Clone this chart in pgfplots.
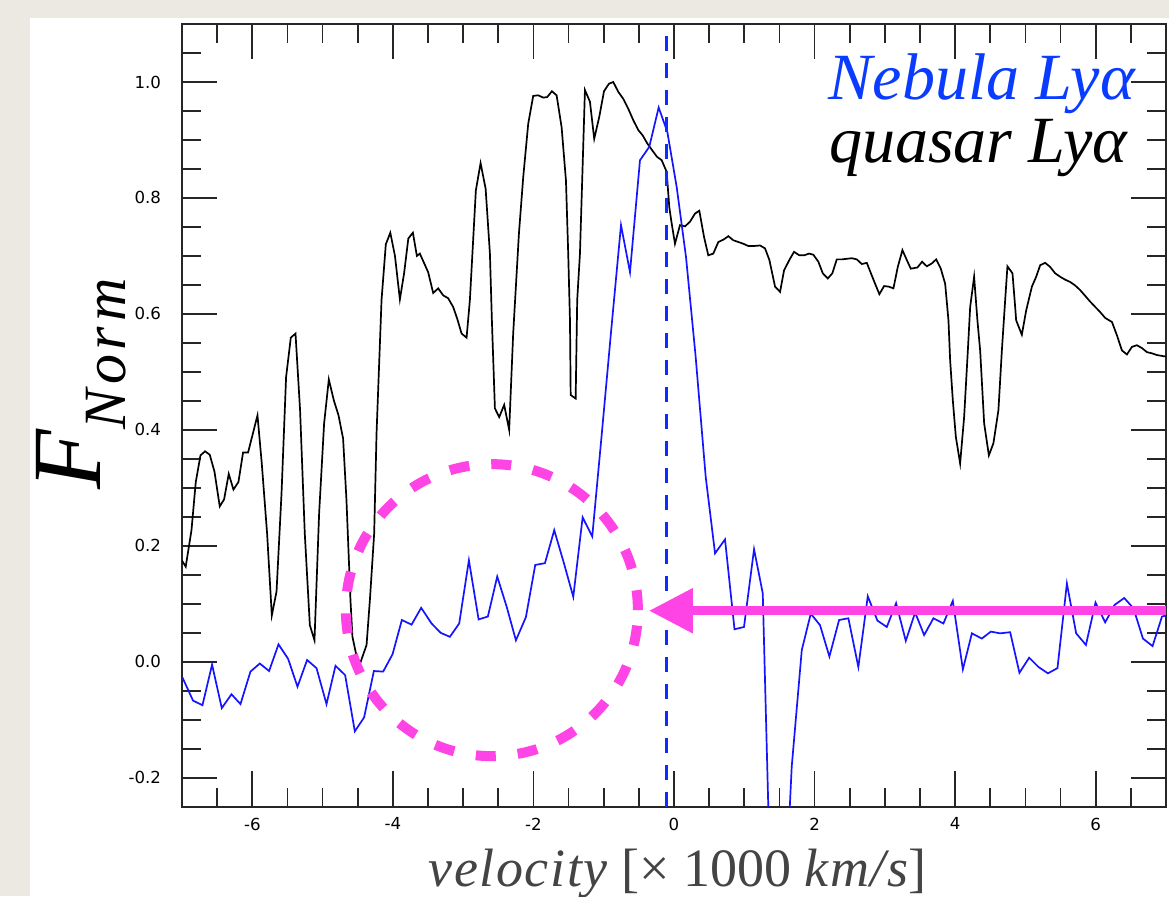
\documentclass[border=0pt]{standalone}
\usepackage{pgfplots}
\pgfplotsset{compat=1.18}
\usepackage{fontspec}
\setmainfont{Liberation Serif}
\newfontfamily\dejavu{DejaVu Sans}
\newfontfamily\spacedit[LetterSpace=3]{Liberation Serif}
\newfontfamily\widespacedit[LetterSpace=8]{Liberation Serif}
\usetikzlibrary{arrows.meta}
\definecolor{magentaA}{RGB}{255,68,230}
\definecolor{lineblue}{RGB}{20,20,255}
\definecolor{legblue}{RGB}{10,60,255}
\definecolor{paper}{RGB}{236,232,226}
\definecolor{labgray}{RGB}{68,68,68}
\begin{document}
\begin{tikzpicture}[x=1pt,y=1pt]
\fill[paper] (0,0) rectangle (584.5,448);
\fill[white] (15,0) rectangle (584.5,439);
\begin{axis}[
  at={(91pt,44.65pt)}, anchor=south west,
  scale only axis, width=492pt, height=391.35pt,
  xmin=-7, xmax=7, ymin=-0.25, ymax=1.1,
  xtick={-6,-4,-2,0,2,4,6},
  ytick={-0.2,0,0.2,0.4,0.6,0.8,1.0},
  minor xtick={-6.5,-5.5,-5,-4.5,-3.5,-3,-2.5,-1.5,-1,-0.5,0.5,1,1.5,2.5,3,3.5,4.5,5,5.5,6.5},
  minor ytick={-0.15,-0.1,-0.05,0.05,0.1,0.15,0.25,0.3,0.35,0.45,0.5,0.55,0.65,0.7,0.75,0.85,0.9,0.95,1.05},
  tick align=inside, tick pos=both,
  major tick length=17.7pt, minor tick length=9.3pt,
  every tick/.style={black!85, line width=0.8pt},
  axis line style={black!85, line width=0.9pt},
  /pgf/number format/assume math mode=true,
  yticklabel style={font=\dejavu\fontsize{8.3}{8.3}\selectfont, xshift=-7pt,
    /pgf/number format/.cd, fixed, fixed zerofill, precision=1},
  xticklabel style={font=\dejavu\fontsize{8.3}{8.3}\selectfont, yshift=-2pt},
]
% quasar Ly-alpha (black)
\addplot[black, line width=0.85pt] coordinates {
(-7.003,0.175)(-6.947,0.164)(-6.865,0.227)(-6.804,0.31)(-6.737,0.356)(-6.672,0.363)(-6.605,0.357)(-6.538,0.328)(-6.463,0.268)(-6.401,0.28)(-6.335,0.324)(-6.268,0.297)(-6.197,0.31)(-6.131,0.361)(-6.060,0.361)(-5.997,0.391)(-5.926,0.425)(-5.865,0.342)(-5.789,0.221)(-5.722,0.08)(-5.655,0.121)(-5.584,0.29)(-5.519,0.491)(-5.452,0.559)(-5.385,0.566)(-5.320,0.434)(-5.253,0.221)(-5.181,0.063)(-5.115,0.037)(-5.049,0.256)(-4.978,0.411)(-4.911,0.487)(-4.840,0.451)(-4.773,0.425)(-4.708,0.385)(-4.660,0.279)(-4.603,0.106)(-4.575,0.043)(-4.517,0.01)(-4.466,-0.003)(-4.374,0.029)(-4.327,0.106)(-4.266,0.221)(-4.232,0.394)(-4.161,0.624)(-4.10,0.72)(-4.036,0.74)(-3.97,0.70)(-3.90,0.625)(-3.84,0.67)(-3.78,0.73)(-3.715,0.74)(-3.658,0.70)(-3.616,0.704)(-3.498,0.672)(-3.426,0.636)(-3.355,0.644)(-3.284,0.632)(-3.213,0.627)(-3.142,0.612)(-3.085,0.592)(-3.022,0.566)(-2.951,0.559)(-2.904,0.624)(-2.819,0.813)(-2.752,0.86)(-2.680,0.816)(-2.619,0.704)(-2.591,0.589)(-2.548,0.437)(-2.487,0.422)(-2.416,0.443)(-2.345,0.40)(-2.288,0.566)(-2.206,0.739)(-2.145,0.836)(-2.074,0.928)(-2.003,0.976)(-1.932,0.977)(-1.860,0.973)(-1.804,0.974)(-1.737,0.984)(-1.670,0.977)(-1.599,0.922)(-1.537,0.83)(-1.505,0.704)(-1.480,0.589)(-1.470,0.46)(-1.399,0.454)(-1.377,0.624)(-1.338,0.704)(-1.267,0.986)(-1.196,0.966)(-1.135,0.902)(-1.063,0.94)(-0.996,0.984)(-0.925,0.997)(-0.864,1.0)(-0.793,0.983)(-0.722,0.971)(-0.651,0.954)(-0.579,0.934)(-0.508,0.917)(-0.446,0.908)(-0.380,0.894)(-0.309,0.882)(-0.242,0.871)(-0.175,0.865)(-0.104,0.845)(-0.067,0.784)(-0.033,0.756)(0.014,0.721)(0.085,0.753)(0.157,0.751)(0.228,0.759)(0.299,0.773)(0.360,0.778)(0.427,0.733)(0.488,0.701)(0.559,0.704)(0.631,0.724)(0.702,0.728)(0.773,0.734)(0.844,0.727)(0.915,0.724)(0.986,0.721)(1.058,0.717)(1.129,0.717)(1.224,0.718)(1.295,0.713)(1.357,0.693)(1.438,0.647)(1.509,0.638)(1.566,0.675)(1.641,0.693)(1.708,0.707)(1.784,0.701)(1.851,0.701)(1.922,0.704)(1.983,0.702)(2.054,0.69)(2.117,0.67)(2.188,0.661)(2.253,0.67)(2.316,0.694)(2.387,0.694)(2.458,0.695)(2.530,0.696)(2.601,0.694)(2.672,0.686)(2.743,0.688)(2.861,0.652)(2.922,0.634)(2.989,0.648)(3.056,0.647)(3.122,0.644)(3.184,0.681)(3.250,0.71)(3.312,0.693)(3.369,0.678)(3.463,0.68)(3.530,0.69)(3.597,0.682)(3.668,0.687)(3.730,0.694)(3.796,0.678)(3.858,0.652)(3.905,0.589)(3.929,0.52)(3.967,0.451)(4.010,0.388)(4.071,0.342)(4.128,0.422)(4.181,0.537)(4.214,0.612)(4.270,0.664)(4.317,0.589)(4.356,0.537)(4.413,0.411)(4.480,0.356)(4.545,0.377)(4.616,0.434)(4.665,0.537)(4.712,0.624)(4.744,0.682)(4.816,0.67)(4.854,0.612)(4.868,0.589)(4.949,0.564)(5.011,0.606)(5.092,0.647)(5.153,0.664)(5.210,0.684)(5.281,0.688)(5.352,0.681)(5.423,0.67)(5.495,0.664)(5.566,0.659)(5.637,0.655)(5.708,0.649)(5.779,0.641)(5.851,0.631)(5.922,0.621)(5.993,0.612)(6.064,0.603)(6.135,0.593)(6.231,0.586)(6.302,0.563)(6.373,0.537)(6.444,0.53)(6.515,0.543)(6.586,0.546)(6.658,0.541)(6.729,0.534)(6.800,0.532)(6.871,0.529)(6.965,0.527)(7.032,0.526)
};
% nebula Ly-alpha (blue)
\addplot[lineblue, line width=0.85pt] coordinates {
(-6.994,-0.027)(-6.843,-0.067)(-6.709,-0.075)(-6.572,-0.005)(-6.434,-0.08)(-6.296,-0.056)(-6.168,-0.073)(-6.026,-0.017)(-5.893,-0.003)(-5.761,-0.016)(-5.627,0.03)(-5.490,0.005)(-5.357,-0.043)(-5.220,0.003)(-5.086,-0.011)(-4.944,-0.073)(-4.816,-0.007)(-4.679,-0.023)(-4.541,-0.12)(-4.409,-0.096)(-4.270,-0.016)(-4.138,-0.017)(-4.004,0.013)(-3.872,0.072)(-3.734,0.064)(-3.597,0.093)(-3.449,0.066)(-3.321,0.05)(-3.189,0.043)(-3.056,0.066)(-2.918,0.175)(-2.780,0.073)(-2.648,0.078)(-2.515,0.147)(-2.381,0.095)(-2.249,0.037)(-2.107,0.077)(-1.974,0.167)(-1.836,0.17)(-1.704,0.227)(-1.566,0.17)(-1.433,0.112)(-1.300,0.249)(-1.163,0.216)(-1.029,0.391)(-0.894,0.571)(-0.754,0.753)(-0.626,0.672)(-0.484,0.865)(-0.352,0.888)(-0.218,0.956)(-0.095,0.914)(0.038,0.819)(0.171,0.698)(0.306,0.529)(0.451,0.319)(0.584,0.187)(0.726,0.211)(0.861,0.056)(0.996,0.06)(1.139,0.194)(1.263,0.118)(1.395,-0.50)(1.537,-0.53)(1.675,-0.181)(1.818,0.02)(1.946,0.083)(2.078,0.063)(2.211,0.009)(2.349,0.072)(2.481,0.075)(2.623,-0.009)(2.757,0.113)(2.894,0.071)(3.028,0.06)(3.160,0.101)(3.298,0.036)(3.431,0.085)(3.559,0.046)(3.691,0.075)(3.833,0.066)(3.967,0.105)(4.110,-0.013)(4.238,0.049)(4.380,0.04)(4.508,0.052)(4.641,0.049)(4.783,0.051)(4.915,-0.019)(5.053,0.007)(5.186,-0.009)(5.320,-0.02)(5.456,-0.011)(5.590,0.135)(5.722,0.049)(5.861,0.029)(5.997,0.102)(6.135,0.068)(6.268,0.098)(6.406,0.11)(6.538,0.092)(6.672,0.04)(6.809,0.027)(6.943,0.078)(7.01,0.08)
};
% systemic velocity marker
\addplot[legblue!60!lineblue, line width=1.5pt, dash pattern=on 7.5pt off 6pt] coordinates {(-0.1,-0.25)(-0.1,1.1)};
% annotations
\draw[magentaA, line width=5pt, dash pattern=on 10pt off 11pt] (axis cs:-2.591,0.089) circle [radius=73pt];
\draw[magentaA, line width=4.5pt, -{Triangle[length=22pt,width=21.5pt]}] (axis cs:7.1,0.088) -- (axis cs:-0.356,0.088);
\end{axis}
\node[anchor=base east, inner sep=0, font=\itshape\fontsize{33}{33}\selectfont, text=legblue] at (567.5,398) {Nebula Lyα};
\node[anchor=base east, inner sep=0, font=\itshape\fontsize{33}{33}\selectfont, text=black] at (564,366.5) {quasar Lyα};
\node[anchor=base west, inner sep=0, rotate=90] at (50,203) {\fontsize{49}{49}\selectfont\itshape F\raisebox{-12.5pt}{\widespacedit\itshape\fontsize{30}{30}\selectfont Norm}};
\node[anchor=base, inner sep=0, text=labgray, font=\fontsize{27}{27}\selectfont] at (338.75,5) {{\spacedit\itshape velocity} [× 1000 {\spacedit\itshape km/s}]};
\pgfresetboundingbox
\path (0,0) rectangle (584.5,448);
\end{tikzpicture}
\end{document}
